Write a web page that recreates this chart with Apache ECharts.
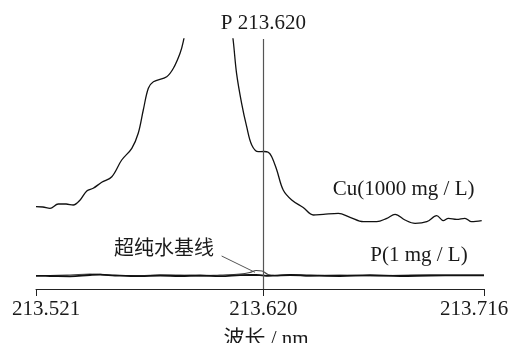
<!DOCTYPE html>
<html style="height: 100%">

<head>
    <meta charset="utf-8">
</head>

<body style="height: 100%; margin: 0; background: #fff">
    <div id="container" style="height: 100%"></div>
    <script type="text/javascript" src="https://cdn.jsdelivr.net/npm/echarts@6/dist/echarts.min.js"></script>
    <script type="text/javascript">
        // wavelength (nm) / intensity
        var cuWavelength = [213.5210, 213.5240, 213.5271, 213.5307, 213.5341, 213.5372, 213.5402, 213.5431, 213.5459, 213.5496,
            213.5540, 213.5583, 213.5627, 213.5655, 213.5677, 213.5699, 213.5721, 213.5779, 213.5808, 213.5837,
            213.5851, 213.5872, 213.5902, 213.5967, 213.6033, 213.6054, 213.6069, 213.6083, 213.6105, 213.6127,
            213.6149, 213.6178, 213.6202, 213.6221, 213.6236, 213.6258, 213.6286, 213.6323, 213.6373, 213.6417,
            213.6461, 213.6526, 213.6577, 213.6635, 213.6693, 213.6737, 213.6773, 213.6816, 213.6860, 213.6911,
            213.6954, 213.6983, 213.7005, 213.7041, 213.7077, 213.7106, 213.7150];
        var cuIntensity = [82.3, 82, 80.7, 85, 85, 84, 89, 98, 100.7, 106.7,
            112.3, 129, 140.7, 155.7, 179, 200.7, 207.3, 212.3, 220.7, 235.7,
            247.3, 274, 315, 380, 315, 275, 247.3, 215.7, 185.7, 162.3,
            144, 137.3, 137.5, 136.7, 132.3, 119, 99, 89, 81.5, 74,
            74.7, 75.7, 71.7, 67.3, 67.3, 70.7, 74.7, 69, 65.7, 67.3,
            73.3, 68.3, 70.7, 69.7, 70.7, 67.3, 68.3];

        var baseWavelength = [213.5210, 213.5271, 213.5358, 213.5445, 213.5489, 213.5554, 213.5663, 213.5750, 213.5837, 213.5924,
            213.6011, 213.6098, 213.6141, 213.6168, 213.6194, 213.6220, 213.6250, 213.6316, 213.6403, 213.6533,
            213.6664, 213.6794, 213.6925, 213.7056, 213.7160];
        var pIntensity = [13.2, 13, 12.7, 14, 14.4, 13.5, 12.8, 13.5, 13, 13.5,
            12.8, 13.8, 14, 14, 13.6, 13.2, 13.4, 14, 13.5, 13,
            13.8, 13, 13.5, 13.7, 13.7];
        var waterIntensity = [13.5, 13.5, 14, 15, 14.6, 13.5, 13.5, 14, 14, 13.2,
            14, 15, 16.5, 18.5, 18, 14.5, 13.5, 14.2, 13.2, 14,
            13.2, 13.6, 14, 13.8, 13.8];

        var tickValues = [213.521, 213.620, 213.716];
        var peakWavelength = 213.620;

        function pairs(xs, ys) {
            return xs.map(function (x, i) { return [x, ys[i]]; });
        }

        var serif = "'Liberation Serif', 'Times New Roman', 'Noto Sans CJK SC', serif";
        var ink = '#1a1a1a';

        var dom = document.getElementById("container");
        var myChart = echarts.init(dom);

        option = {
            animation: false,
            backgroundColor: '#fff',
            grid: { left: 36, right: 28, top: 39, bottom: 54, outerBoundsMode: 'none' },
            xAxis: {
                type: 'value',
                min: 213.521,
                max: 213.716,
                name: '波长 / nm',
                nameLocation: 'middle',
                nameGap: 40,
                nameTextStyle: { fontFamily: serif, fontSize: 21, color: ink, padding: [0, 0, 0, 12] },
                splitLine: { show: false },
                axisLine: { lineStyle: { color: '#222', width: 1 } },
                axisTick: {
                    customValues: tickValues,
                    length: 7,
                    lineStyle: { color: '#222' }
                },
                axisLabel: {
                    customValues: tickValues,
                    margin: 10,
                    formatter: function (v) {
                        var s = v.toFixed(3);
                        if (Math.abs(v - tickValues[0]) < 1e-6) return '{l|' + s + '}';
                        if (Math.abs(v - tickValues[2]) < 1e-6) return '{r|' + s + '}';
                        return '{m|' + s + '}';
                    },
                    rich: {
                        l: { fontFamily: serif, fontSize: 21, color: ink, padding: [0, 0, 0, 20] },
                        m: { fontFamily: serif, fontSize: 21, color: ink },
                        r: { fontFamily: serif, fontSize: 21, color: ink, padding: [0, 20, 0, 0] }
                    }
                }
            },
            yAxis: {
                type: 'value',
                min: 0,
                max: 250,
                show: false
            },
            series: [
                {
                    name: 'Cu',
                    type: 'line',
                    data: pairs(cuWavelength, cuIntensity),
                    smooth: 0.35,
                    showSymbol: false,
                    lineStyle: { color: '#111', width: 1.3 },
                    markPoint: {
                        symbol: 'circle',
                        symbolSize: 0,
                        label: {
                            show: true, position: 'inside', formatter: 'Cu(1000 mg / L)',
                            fontFamily: serif, fontSize: 21, color: ink
                        },
                        data: [{ coord: [213.6810, 99.5] }]
                    },
                    markLine: {
                        silent: true,
                        symbol: ['none', 'none'],
                        lineStyle: { color: '#555', width: 1.2, type: 'solid' },
                        label: {
                            show: true, position: 'end', distance: 5, formatter: 'P 213.620',
                            fontFamily: serif, fontSize: 21, color: ink
                        },
                        data: [{ xAxis: peakWavelength }]
                    }
                },
                {
                    name: '超纯水基线',
                    type: 'line',
                    data: pairs(baseWavelength, waterIntensity),
                    smooth: 0.4,
                    showSymbol: false,
                    lineStyle: { color: '#444', width: 1.2 },
                    markPoint: {
                        symbol: 'circle',
                        symbolSize: 0,
                        label: {
                            show: true, position: 'inside', formatter: '超纯水基线',
                            fontFamily: serif, fontSize: 20, color: ink
                        },
                        data: [{ coord: [213.5767, 39] }]
                    },
                    markLine: {
                        silent: true,
                        symbol: ['none', 'none'],
                        label: { show: false },
                        lineStyle: { color: '#555', width: 1, type: 'solid' },
                        data: [[{ coord: [213.6018, 33] }, { coord: [213.6163, 16.7] }]]
                    }
                },
                {
                    name: 'P',
                    type: 'line',
                    data: pairs(baseWavelength, pIntensity),
                    smooth: 0.4,
                    showSymbol: false,
                    lineStyle: { color: '#111', width: 1.8 },
                    markPoint: {
                        symbol: 'circle',
                        symbolSize: 0,
                        label: {
                            show: true, position: 'inside', formatter: 'P(1 mg / L)',
                            fontFamily: serif, fontSize: 21, color: ink
                        },
                        data: [{ coord: [213.6877, 34] }]
                    }
                }
            ]
        };

        if (option && typeof option === "object") {
            myChart.setOption(option, true);
        }
    </script>
</body>

</html>
